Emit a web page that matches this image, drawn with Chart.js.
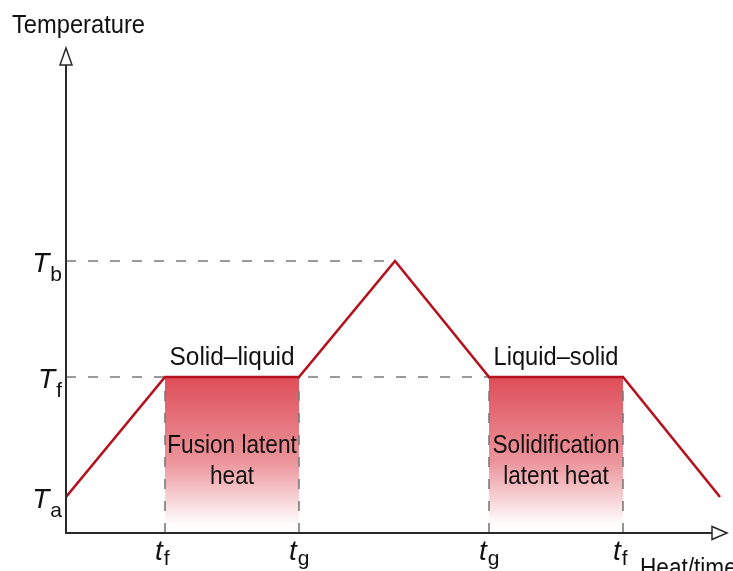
<!DOCTYPE html>
<html>
<head>
<meta charset="utf-8">
<script src="https://cdn.jsdelivr.net/npm/chart.js@4/dist/chart.umd.min.js"></script>
<style>
  body { margin: 0; background: #fff; }
  #wrap { width: 733px; height: 571px; }
</style>
</head>
<body>
<div id="wrap"><canvas id="myChart" width="733" height="571"></canvas></div>
<script>
// Les donnees du diagramme (unites arbitraires)
const timeVals = [0, 99, 233, 329, 423, 557, 654]
const tempVals = [36, 156, 156, 272, 156, 156, 36]
const tempTicks = [36, 156, 272]
const tempTickSubs = ["a", "f", "b"]
const timeTicks = [99, 233, 423, 557]
const timeTickSubs = ["f", "g", "g", "f"]
const phaseLabels = ["Solid–liquid", "Liquid–solid"]
const heatLabels = [["Fusion latent", "heat"], ["Solidification", "latent heat"]]
const axisTitles = ["Temperature", "Heat/time"]

const tempF = tempTicks[1]
const tempB = tempTicks[2]
const FONT = "'Liberation Sans', Arial, sans-serif"
const graph = document.getElementById("myChart")

// Degrade rouge -> blanc sous les paliers
function plateauFill(ctx) {
    const chart = ctx.chart
    const area = chart.chartArea
    if (!area) return "rgba(0,0,0,0)"
    const top = chart.scales.y.getPixelForValue(tempF)
    const g = chart.ctx.createLinearGradient(0, top, 0, area.bottom)
    g.addColorStop(0, "rgb(222,78,88)")
    g.addColorStop(0.55, "rgb(236,150,157)")
    g.addColorStop(0.95, "rgb(255,255,255)")
    g.addColorStop(1, "rgb(255,255,255)")
    return g
}

const pts = timeVals.map((t, i) => ({ x: t, y: tempVals[i] }))
const dashStyle = {
    borderColor: "#7a7a7a", borderWidth: 1.6, borderDash: [10, 12],
    pointRadius: 0, showLine: true, fill: false, order: 1
}

const datasets = [{
    data: pts,
    borderColor: "#b3121e", borderWidth: 2.6,
    pointRadius: 0, showLine: true, fill: false, order: 0
}]
// Les deux paliers remplis
;[[1, 2], [4, 5]].forEach(([a, b]) => {
    datasets.push({
        data: [pts[a], pts[b]],
        backgroundColor: plateauFill, borderWidth: 0,
        pointRadius: 0, showLine: true, fill: "origin", order: 3
    })
})
// Pointilles horizontaux
datasets.push({ ...dashStyle, data: [{ x: 0, y: tempB }, { x: timeVals[3], y: tempB }] })
datasets.push({ ...dashStyle, data: [{ x: 0, y: tempF }, { x: timeVals[4], y: tempF }] })
// Pointilles verticaux
timeTicks.forEach(t => {
    datasets.push({ ...dashStyle, data: [{ x: t, y: 0 }, { x: t, y: tempF }] })
})

function drawSub(ctx, main, sub, x, y, subDy) {
    ctx.font = "italic 28px " + FONT
    ctx.fillText(main, x, y)
    const w = ctx.measureText(main).width
    ctx.font = "21px " + FONT
    ctx.fillText(sub, x + w + 1, y + subDy)
}
function subWidth(ctx, main, sub) {
    ctx.font = "italic 28px " + FONT
    const w = ctx.measureText(main).width
    ctx.font = "21px " + FONT
    return w + 1 + ctx.measureText(sub).width
}
// Texte un peu condense comme dans l'original
function narrowText(ctx, txt, x, y) {
    ctx.fillText(txt, x, y, ctx.measureText(txt).width * 0.87)
}

// Plugin pour les axes avec fleches et les textes
const decor = {
    id: "decor",
    afterDatasetsDraw(chart) {
        const ctx = chart.ctx
        const a = chart.chartArea
        const xs = chart.scales.x
        const ys = chart.scales.y
        const x0 = xs.getPixelForValue(0)
        const y0 = ys.getPixelForValue(0)
        ctx.save()
        ctx.strokeStyle = "#2a2a2a"
        ctx.lineWidth = 2
        ctx.beginPath()
        ctx.moveTo(x0, y0 + 1)
        ctx.lineTo(x0, a.top + 17)
        ctx.moveTo(x0 - 1, y0)
        ctx.lineTo(a.right - 15, y0)
        ctx.stroke()
        ctx.lineWidth = 1.5
        ctx.fillStyle = "#fff"
        ctx.beginPath()
        ctx.moveTo(x0, a.top)
        ctx.lineTo(x0 - 6, a.top + 17)
        ctx.lineTo(x0 + 6, a.top + 17)
        ctx.closePath()
        ctx.fill(); ctx.stroke()
        ctx.beginPath()
        ctx.moveTo(a.right, y0)
        ctx.lineTo(a.right - 15, y0 - 6.5)
        ctx.lineTo(a.right - 15, y0 + 6.5)
        ctx.closePath()
        ctx.fill(); ctx.stroke()

        ctx.fillStyle = "#111"
        ctx.textBaseline = "alphabetic"
        ctx.textAlign = "left"
        // Etiquettes de l'axe y
        tempTicks.forEach((v, i) => {
            const py = ys.getPixelForValue(v)
            const w = subWidth(ctx, "T", tempTickSubs[i])
            drawSub(ctx, "T", tempTickSubs[i], x0 - 4 - w, py + 11, 9)
        })
        // Etiquettes de l'axe x
        timeTicks.forEach((v, i) => {
            const px = xs.getPixelForValue(v)
            drawSub(ctx, "t", timeTickSubs[i], px - 10, y0 + 27, 5)
        })
        // Titres des axes
        ctx.font = "26px " + FONT
        ctx.fillText(axisTitles[0], 12, 33, 133)
        narrowText(ctx, axisTitles[1], 640, y0 + 43)

        // Textes des paliers
        ctx.textAlign = "center"
        const yF = ys.getPixelForValue(tempF)
        ;[[1, 2], [4, 5]].forEach(([p, q], i) => {
            const cx = (xs.getPixelForValue(timeVals[p]) + xs.getPixelForValue(timeVals[q])) / 2
            ctx.font = "26px " + FONT
            ctx.fillText(phaseLabels[i], cx, yF - 12, 125)
            narrowText(ctx, heatLabels[i][0], cx, yF + 76)
            narrowText(ctx, heatLabels[i][1], cx, yF + 107)
        })
        ctx.restore()
    }
}

new Chart(graph, {
    type: "scatter",
    data: { datasets: datasets },
    options: {
        responsive: false,
        animation: false,
        devicePixelRatio: 1,
        layout: { padding: { left: 66, right: 6, top: 48, bottom: 38 } },
        scales: {
            x: { type: "linear", min: 0, max: 661, display: false },
            y: { type: "linear", min: 0, max: 485, display: false }
        },
        plugins: {
            legend: { display: false },
            tooltip: { enabled: false }
        }
    },
    plugins: [decor]
})
</script>
</body>
</html>
